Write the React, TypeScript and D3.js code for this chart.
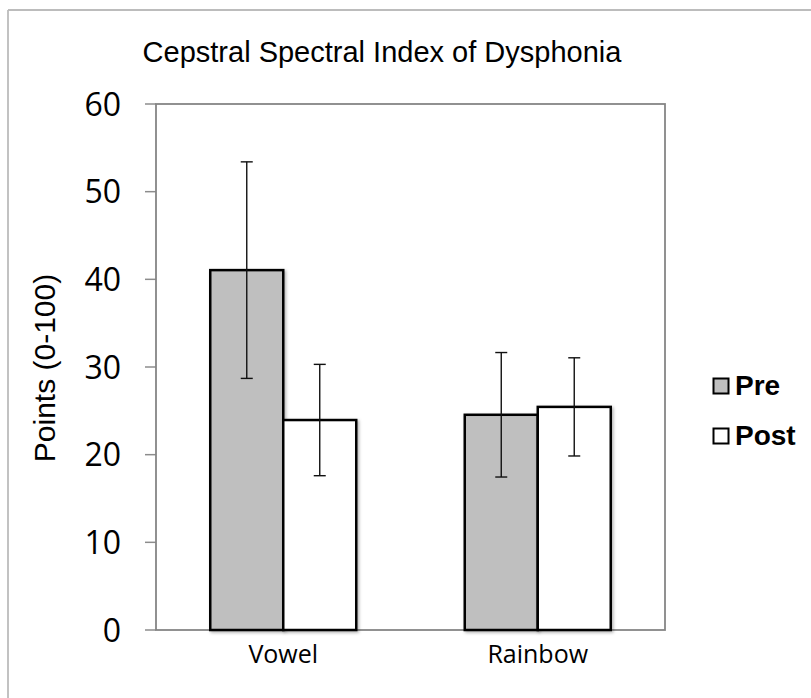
import React from "react";
import * as d3 from "d3";

const categories = ["Vowel", "Rainbow"];
const seriesNames = ["Pre", "Post"];
const preValues = [41.05, 24.55];
const preErrors = [12.35, 7.1];
const postValues = [23.95, 25.45];
const postErrors = [6.35, 5.6];
const yTicks = [0, 10, 20, 30, 40, 50, 60];
const title = "Cepstral Spectral Index of Dysphonia";
const yTitle = "Points (0-100)";

const W = 811;
const H = 698;
const plot = { left: 156, right: 665, top: 104, bottom: 630 };
const fills: Record<string, string> = { Pre: "#bfbfbf", Post: "#ffffff" };

export default function App() {
  const y = d3.scaleLinear().domain([0, 60]).range([plot.bottom, plot.top]);
  const x0 = d3
    .scaleBand<string>()
    .domain(categories)
    .range([plot.left, plot.right])
    .paddingInner(0.4264)
    .paddingOuter(0.2132);
  const x1 = d3.scaleBand<string>().domain(seriesNames).range([0, x0.bandwidth()]);

  const rows = categories.map((c, i) => ({
    cat: c,
    items: [
      { s: "Pre", v: preValues[i], e: preErrors[i] },
      { s: "Post", v: postValues[i], e: postErrors[i] },
    ],
  }));

  const sans = "'Liberation Sans', Arial, sans-serif";
  const open = "'Open Sans', sans-serif";

  return (
    <svg
      width={W}
      height={H}
      style={{ position: "absolute", left: 0, top: 0, background: "#fff" }}
    >
      <defs>
        <filter id="shadow" x="-20%" y="-20%" width="140%" height="140%">
          <feDropShadow dx="1.5" dy="1.5" stdDeviation="1.5" floodColor="#000" floodOpacity="0.3" />
        </filter>
      </defs>
      {/* outer chart border */}
      <line x1={8} y1={10} x2={W} y2={10} stroke="#bcbcbc" strokeWidth={1.8} />
      <line x1={8} y1={10} x2={8} y2={H} stroke="#bcbcbc" strokeWidth={1.8} />

      <text x={382} y={62} textAnchor="middle" fontFamily={sans} fontSize={29} fill="#000">
        {title}
      </text>

      {/* ticks and labels */}
      {yTicks.map((t) => (
        <g key={t}>
          <line x1={145} x2={plot.left} y1={y(t)} y2={y(t)} stroke="#8c8c8c" strokeWidth={1.5} />
          <text
            x={121}
            y={y(t)}
            dy="0.36em"
            textAnchor="end"
            fontFamily={open}
            fontSize={32}
            fill="#000"
          >
            {t}
          </text>
        </g>
      ))}

      <text
        transform={`translate(55,368) rotate(-90)`}
        textAnchor="middle"
        fontFamily={sans}
        fontSize={30}
        fill="#000"
      >
        {yTitle}
      </text>

      {/* plot frame */}
      <rect
        x={plot.left}
        y={plot.top}
        width={plot.right - plot.left}
        height={plot.bottom - plot.top}
        fill="none"
        stroke="#858585"
        strokeWidth={1.8}
      />

      {/* bars */}
      {rows.map((r) => (
        <g key={r.cat} transform={`translate(${x0(r.cat)},0)`}>
          {r.items.map((it) => (
            <rect
              key={it.s}
              x={x1(it.s)}
              y={y(it.v)}
              width={x1.bandwidth()}
              height={y(0) - y(it.v)}
              fill={fills[it.s]}
              stroke="#000"
              strokeWidth={2.5}
              filter="url(#shadow)"
            />
          ))}
          {r.items.map((it) => {
            const cx = (x1(it.s) as number) + x1.bandwidth() / 2;
            return (
              <g key={it.s + "e"} stroke="#111" strokeWidth={1.4}>
                <line x1={cx} x2={cx} y1={y(it.v + it.e)} y2={y(it.v - it.e)} />
                <line x1={cx - 6} x2={cx + 6} y1={y(it.v + it.e)} y2={y(it.v + it.e)} />
                <line x1={cx - 6} x2={cx + 6} y1={y(it.v - it.e)} y2={y(it.v - it.e)} />
              </g>
            );
          })}
          <text
            x={x0.bandwidth() / 2}
            y={663}
            textAnchor="middle"
            fontFamily={open}
            fontSize={25}
            fill="#000"
          >
            {r.cat}
          </text>
        </g>
      ))}

      {/* legend */}
      {seriesNames.map((s, i) => (
        <g key={s} transform={`translate(713,${378 + i * 50})`}>
          <rect x={0.5} y={0.5} width={15} height={15} fill={fills[s]} stroke="#000" strokeWidth={2} />
          <text x={22} y={17} fontFamily={sans} fontWeight="bold" fontSize={28} fill="#000">
            {s}
          </text>
        </g>
      ))}
    </svg>
  );
}
